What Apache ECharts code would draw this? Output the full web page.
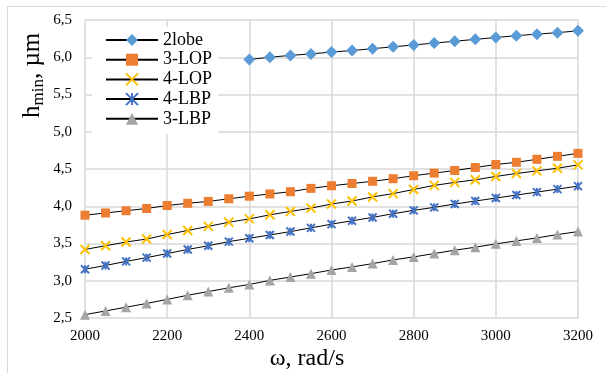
<!DOCTYPE html>
<html>
<head>
<meta charset="utf-8">
<script src="https://cdn.jsdelivr.net/npm/echarts@6/dist/echarts.min.js"></script>
<style>
html,body{margin:0;padding:0;background:#fff;}
#chart{width:606px;height:373px;}
</style>
</head>
<body>
<div id="chart"></div>
<script>
var omega = [2000,2050,2100,2150,2200,2250,2300,2350,2400,2450,2500,2550,2600,2650,2700,2750,2800,2850,2900,2950,3000,3050,3100,3150,3200];
var lobe2 = [null,null,null,null,null,null,null,null,5.97,6.00,6.025,6.045,6.07,6.09,6.115,6.14,6.165,6.19,6.215,6.24,6.265,6.29,6.31,6.33,6.355];
var lop3 = [3.88,3.91,3.94,3.97,4.01,4.04,4.065,4.10,4.135,4.165,4.195,4.24,4.275,4.305,4.335,4.37,4.41,4.445,4.48,4.52,4.56,4.59,4.63,4.67,4.71];
var lop4 = [3.42,3.47,3.52,3.56,3.62,3.675,3.73,3.785,3.83,3.885,3.93,3.975,4.03,4.07,4.125,4.17,4.225,4.28,4.32,4.355,4.40,4.44,4.475,4.51,4.555];
var lbp4 = [3.155,3.205,3.26,3.31,3.365,3.42,3.47,3.525,3.57,3.615,3.66,3.71,3.76,3.805,3.85,3.90,3.945,3.985,4.03,4.07,4.11,4.15,4.19,4.23,4.27];
var lbp3 = [2.545,2.595,2.645,2.695,2.75,2.805,2.855,2.905,2.95,3.005,3.05,3.095,3.145,3.185,3.23,3.28,3.32,3.365,3.41,3.45,3.495,3.535,3.575,3.62,3.66];
var seriesNames = ['2lobe','3-LOP','4-LOP','4-LBP','3-LBP'];

function pairs(arr){
  var out = [];
  for (var i=0;i<omega.length;i++){ if (arr[i]!==null) out.push([omega[i], arr[i]]); }
  return out;
}
var serif = 'Liberation Serif, Times New Roman, serif';
var chart = echarts.init(document.getElementById('chart'));
function mk(name, data, symbol, size, color, stroke){
  return {
    name: name, type: 'line', data: pairs(data),
    symbol: symbol, symbolSize: size, showSymbol: true,
    lineStyle: {color: '#000', width: 1},
    itemStyle: stroke ? {color: 'rgba(0,0,0,0)', borderColor: color, borderWidth: 2} : {color: color, borderWidth: 0},
    emphasis: {disabled: true},
    z: 3, animation: false
  };
}
chart.setOption({
  animation: false,
  graphic: [
    {type:'rect', shape:{x:7.5,y:6.5,width:700,height:500}, style:{fill:'none', stroke:'#d9d9d9', lineWidth:1}, z:-1},
    {type:'text', x:18, y:118, rotation:Math.PI/2,
     style:{text:'{h|h}{s|min}{h|, µm}', rich:{h:{fontFamily:serif,fontSize:25,fill:'#000'}, s:{fontFamily:serif,fontSize:17,fill:'#000',padding:[12,0,0,0]}}, fill:'#000'}},
    {type:'text', x:307, y:359, style:{text:'ω, rad/s', fontFamily:serif, fontSize:24, fill:'#000', align:'center', verticalAlign:'middle'}}
  ],
  grid: {left:85, right:28, top:20, bottom:55},
  legend: {
    orient:'vertical', left:92, top:27, padding:[4,6,6,13],
    backgroundColor:'#fff', itemWidth:52, itemHeight:15, itemGap:1.7,
    textStyle:{fontFamily:serif, fontSize:18, lineHeight:18, color:'#000'},
    data: seriesNames
  },
  xAxis: {
    type:'value', min:2000, max:3200, interval:200,
    axisLine:{show:false}, axisTick:{show:false},
    splitLine:{show:true, lineStyle:{color:'#d9d9d9', width:1.5}},
    axisLabel:{fontFamily:serif, fontSize:15, color:'#000', margin:11, formatter:function(v){return String(v);}}
  },
  yAxis: {
    type:'value', min:2.5, max:6.5, interval:0.5,
    axisLine:{show:false}, axisTick:{show:false},
    splitLine:{show:true, lineStyle:{color:'#d9d9d9', width:1.5}},
    axisLabel:{fontFamily:serif, fontSize:15, color:'#000', margin:13, formatter:function(v){return v.toFixed(1).replace('.',',');}}
  },
  series: [
    mk('2lobe', lobe2, 'diamond', 12, '#5B9BD5'),
    mk('3-LOP', lop3, 'rect', 9, '#ED7D31'),
    mk('4-LOP', lop4, 'path://M0,0L10,10M10,0L0,10', 9, '#FFC000', true),
    mk('4-LBP', lbp4, 'path://M0,0L10,10M10,0L0,10M5,0L5,10', 8, '#4472C4', true),
    mk('3-LBP', lbp3, 'triangle', 10, '#A5A5A5')
  ]
});
</script>
</body>
</html>
